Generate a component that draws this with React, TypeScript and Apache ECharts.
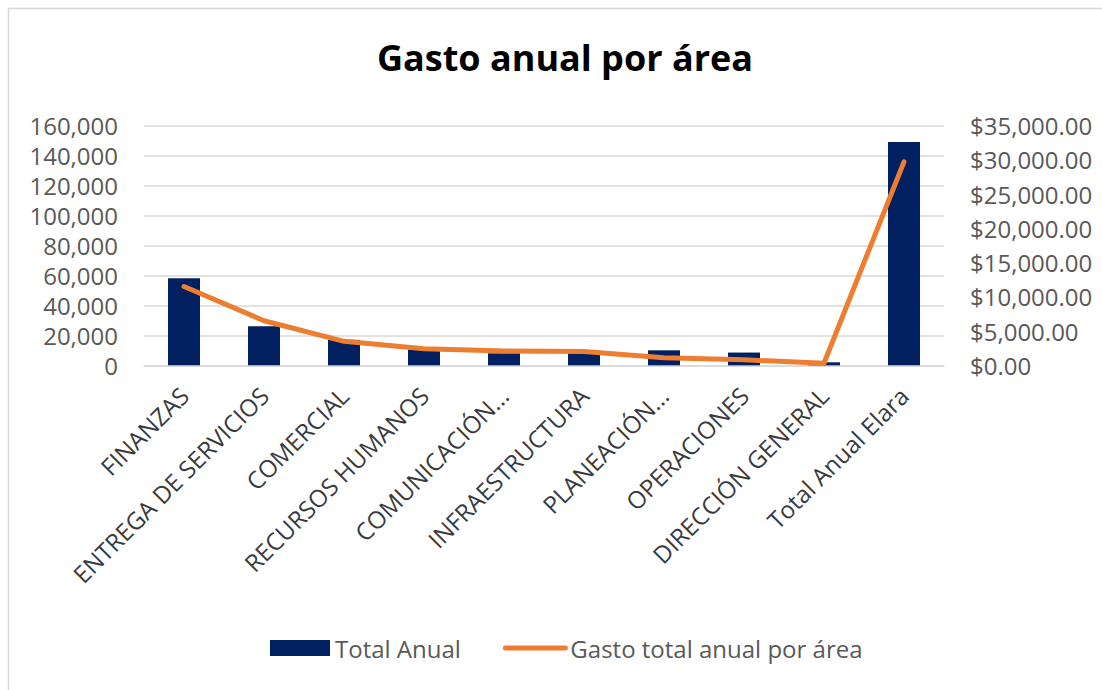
import React, { useEffect, useRef } from "react";
import * as echarts from "echarts";

const categories = [
  "FINANZAS",
  "ENTREGA DE SERVICIOS",
  "COMERCIAL",
  "RECURSOS HUMANOS",
  "COMUNICACIÓN...",
  "INFRAESTRUCTURA",
  "PLANEACIÓN...",
  "OPERACIONES",
  "DIRECCIÓN GENERAL",
  "Total Anual Elara",
];
const totalAnual = [58000, 26000, 17000, 10500, 8000, 8000, 10000, 8500, 2000, 149000];
const gastoArea = [11500, 6500, 3500, 2400, 2100, 2000, 1100, 800, 300, 29700];
const leftTicks = { min: 0, max: 160000, interval: 20000 };
const rightTicks = { min: 0, max: 35000, interval: 5000 };

const FONT = "'Open Sans', 'Noto Sans', sans-serif";
const GRAY = "#595959";

export default function App() {
  const ref = useRef<HTMLDivElement>(null);
  useEffect(() => {
    if (!ref.current) return;
    const chart = echarts.init(ref.current, undefined, { renderer: "svg" });
    chart.setOption({
      animation: false,
      backgroundColor: "#ffffff",
      textStyle: { fontFamily: FONT },
      graphic: [
        {
          type: "rect",
          shape: { x: 8.5, y: 8.5, width: 1300, height: 900 },
          style: { fill: "none", stroke: "#d9d9d9", lineWidth: 1.5 },
          silent: true,
          z: -1,
        },
      ],
      title: {
        text: "Gasto anual por área",
        left: 372,
        top: 34,
        textStyle: { fontFamily: FONT, fontSize: 36, fontWeight: "bold", color: "#000000" },
      },
      legend: {
        top: 631,
        left: 265,
        itemWidth: 60,
        itemHeight: 16,
        itemGap: 42,
        textStyle: { fontFamily: FONT, fontSize: 24, color: GRAY },
        data: [
          { name: "Total Anual", icon: "rect" },
          {
            name: "Gasto total anual por área",
            itemStyle: { opacity: 0 },
            lineStyle: { width: 5, color: "#ED7D31", cap: "round" },
          },
        ],
      },
      grid: { left: 144, right: 158, top: 125.5, bottom: 324.7, containLabel: false },
      xAxis: {
        type: "category",
        data: categories,
        axisLine: { show: true, lineStyle: { color: "#d9d9d9", width: 1.5 } },
        axisTick: { show: false },
        axisLabel: {
          rotate: 45,
          interval: 0,
          margin: 26,
          fontFamily: FONT,
          fontSize: 24,
          color: "#3a3a3a",
        },
      },
      yAxis: [
        {
          type: "value",
          min: leftTicks.min,
          max: leftTicks.max,
          interval: leftTicks.interval,
          axisLine: { show: false },
          axisTick: { show: false },
          splitLine: { lineStyle: { color: "#d9d9d9", width: 1.5 } },
          axisLabel: {
            margin: 26,
            fontFamily: FONT,
            fontSize: 24,
            color: GRAY,
            formatter: (v: number) => v.toLocaleString("en-US"),
          },
        },
        {
          type: "value",
          min: rightTicks.min,
          max: rightTicks.max,
          interval: rightTicks.interval,
          axisLine: { show: false },
          axisTick: { show: false },
          splitLine: { show: false },
          axisLabel: {
            margin: 26,
            fontFamily: FONT,
            fontSize: 24,
            color: GRAY,
            formatter: (v: number) =>
              "$" + v.toLocaleString("en-US", { minimumFractionDigits: 2, maximumFractionDigits: 2 }),
          },
        },
      ],
      series: [
        {
          name: "Total Anual",
          type: "bar",
          yAxisIndex: 0,
          data: totalAnual,
          barWidth: "40%",
          itemStyle: { color: "#002060" },
        },
        {
          name: "Gasto total anual por área",
          type: "line",
          yAxisIndex: 1,
          data: gastoArea,
          smooth: false,
          symbol: "none",
          lineStyle: { color: "#ED7D31", width: 5, cap: "round", join: "round" },
          itemStyle: { color: "#ED7D31" },
        },
      ],
    });
    return () => chart.dispose();
  }, []);
  return (
    <div
      ref={ref}
      style={{ position: "absolute", left: 0, top: 0, width: 1102, height: 690 }}
    />
  );
}
